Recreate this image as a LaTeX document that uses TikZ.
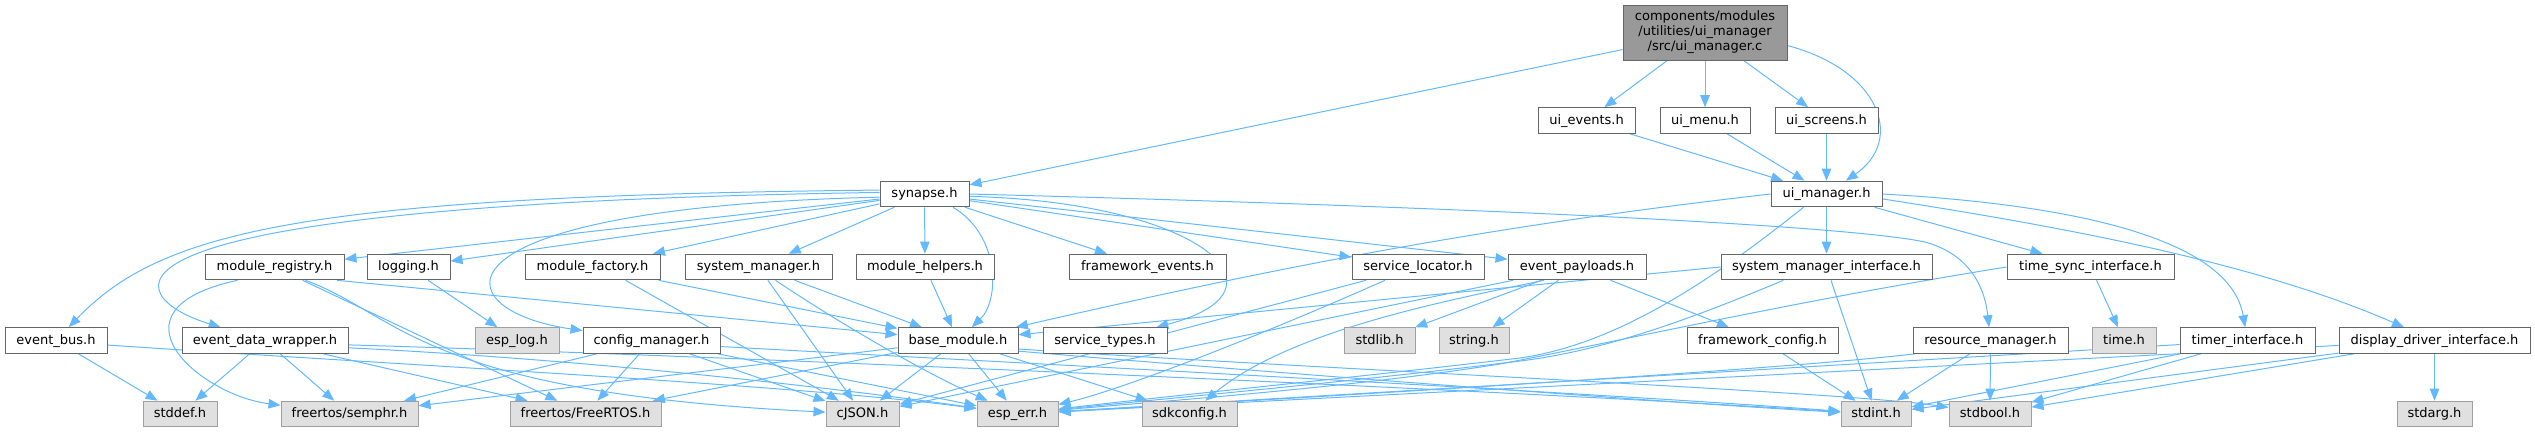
\documentclass[tikz,border=0pt]{standalone}
\usepackage{fontspec}
\setmainfont{DejaVu Sans}
\usetikzlibrary{arrows.meta}
\definecolor{edgec}{HTML}{63B8FF}
\definecolor{bordc}{HTML}{666666}
\definecolor{extb}{HTML}{A0A0A0}
\definecolor{extf}{HTML}{E0E0E0}
\definecolor{topf}{HTML}{999999}
\pgfdeclarelayer{edgelayer}
\pgfsetlayers{edgelayer,main}
\begin{document}
\begin{tikzpicture}[x=1pt,y=-1pt,
  box/.style={draw=bordc, fill=white, line width=1pt, inner sep=0pt, minimum height=25.6pt, text height=9.6pt, text depth=2.6pt, font=\fontsize{13}{15}\selectfont},
  ext/.style={box, draw=extb, fill=extf},
  topbox/.style={draw=bordc, fill=topf, line width=1pt, inner sep=0pt, minimum height=55pt, align=center, font=\fontsize{13}{15}\selectfont},
  dep/.style={draw=edgec, line width=1pt, -{Triangle[length=12pt,width=9.5pt]}}]
\useasboundingbox (0,0) rectangle (2535,432);
% row 0
\node[topbox, minimum width=164] (top) at (1705,32.5) {components/modules\\/utilities/ui\_manager\\/src/ui\_manager.c};
% row 1
\node[box, minimum width=97] (uievents) at (1586.5,120.5) {ui\_events.h};
\node[box, minimum width=90] (uimenu) at (1705,120.5) {ui\_menu.h};
\node[box, minimum width=103] (uiscreens) at (1826.5,120.5) {ui\_screens.h};
% row 2
\node[box, minimum width=89] (synapse) at (924.5,194) {synapse.h};
\node[box, minimum width=111] (uimanager) at (1826.5,194) {ui\_manager.h};
% row 3
\node[box, minimum width=139] (modreg) at (274.5,267) {module\_registry.h};
\node[box, minimum width=83] (logging) at (408.5,267) {logging.h};
\node[box, minimum width=135] (modfactory) at (592.5,267) {module\_factory.h};
\node[box, minimum width=147] (sysmgr) at (758.5,267) {system\_manager.h};
\node[box, minimum width=138] (modhelpers) at (925,267) {module\_helpers.h};
\node[box, minimum width=157] (fwevents) at (1147.5,267) {framework\_events.h};
\node[box, minimum width=132] (svcloc) at (1418,267) {service\_locator.h};
\node[box, minimum width=138] (evpay) at (1577,267) {event\_payloads.h};
\node[box, minimum width=211] (smiface) at (1826.5,267) {system\_manager\_interface.h};
\node[box, minimum width=167] (timesync) at (2090.5,267) {time\_sync\_interface.h};
% row 4
\node[box, minimum width=102] (eventbus) at (56,340.5) {event\_bus.h};
\node[box, minimum width=166] (evdw) at (265,340.5) {event\_data\_wrapper.h};
\node[ext, minimum width=84] (esplog) at (517,340.5) {esp\_log.h};
\node[box, minimum width=137] (cfgmgr) at (651.5,340.5) {config\_manager.h};
\node[box, minimum width=120] (basemod) at (958,340.5) {base\_module.h};
\node[box, minimum width=124] (svctypes) at (1105,340.5) {service\_types.h};
\node[ext, minimum width=71] (stdlib) at (1379.5,340.5) {stdlib.h};
\node[ext, minimum width=70] (stringh) at (1474,340.5) {string.h};
\node[box, minimum width=151] (fwconfig) at (1762.5,340.5) {framework\_config.h};
\node[box, minimum width=155] (resmgr) at (1990.5,340.5) {resource\_manager.h};
\node[ext, minimum width=64] (timeh) at (2124,340.5) {time.h};
\node[box, minimum width=135] (timer) at (2247.5,340.5) {timer\_interface.h};
\node[box, minimum width=191] (display) at (2434.5,340.5) {display\_driver\_interface.h};
% row 5
\node[ext, minimum width=74] (stddef) at (180,414) {stddef.h};
\node[ext, minimum width=137] (semphr) at (349.5,414) {freertos/semphr.h};
\node[ext, minimum width=151] (freertos) at (585.5,414) {freertos/FreeRTOS.h};
\node[ext, minimum width=73] (cjson) at (862.5,414) {cJSON.h};
\node[ext, minimum width=81] (esperr) at (1017.5,414) {esp\_err.h};
\node[ext, minimum width=95] (sdkconfig) at (1189.5,414) {sdkconfig.h};
\node[ext, minimum width=70] (stdint) at (1876,414) {stdint.h};
\node[ext, minimum width=82] (stdbool) at (1990,414) {stdbool.h};
\node[ext, minimum width=75] (stdarg) at (2434.5,414) {stdarg.h};

\begin{pgfonlayer}{edgelayer}
% ui_manager.c
\draw[dep] (top) -- (synapse);
\draw[dep] (top) -- (uievents);
\draw[dep] (top) -- (uimenu);
\draw[dep] (top) -- (uiscreens);
\draw[dep] (top.-9) .. controls (1880,70) and (1905,140) .. (uimanager);
\draw[dep] (uievents) -- (uimanager);
\draw[dep] (uimenu) -- (uimanager);
\draw[dep] (uiscreens) -- (uimanager);
% synapse.h
\draw[dep] (synapse) -- (modreg);
\draw[dep] (synapse) -- (logging);
\draw[dep] (synapse) -- (modfactory);
\draw[dep] (synapse) -- (sysmgr);
\draw[dep] (synapse) -- (modhelpers);
\draw[dep] (synapse) -- (fwevents);
\draw[dep] (synapse) -- (svcloc);
\draw[dep] (synapse) -- (evpay);
\draw[dep] (synapse.175) .. controls (300,196) and (160,232) .. (eventbus);
\draw[dep] (synapse.178) .. controls (30,205) and (130,300) .. (evdw);
\draw[dep] (synapse.184) .. controls (420,208) and (440,310) .. (cfgmgr);
\draw[dep] (synapse.-25) .. controls (1000,235) and (1000,300) .. (basemod);
\draw[dep] (synapse.-3) .. controls (1200,202) and (1300,290) .. (svctypes);
\draw[dep] (synapse.east) .. controls (1500,208) and (1850,226) .. (1925,242) .. controls (1972,255) and (1985,290) .. (resmgr);
% ui_manager.h
\draw[dep] (uimanager.west) .. controls (1500,225) and (1300,262) .. (basemod);
\draw[dep] ([xshift=-23pt]uimanager.south) .. controls (1700,290) and (1610,345) .. (1520,358) .. controls (1350,378) and (1150,398) .. (esperr);
\draw[dep] (uimanager) -- (smiface);
\draw[dep] (uimanager) -- (timesync);
\draw[dep] (uimanager.east) .. controls (2080,205) and (2230,240) .. (timer);
\draw[dep] (uimanager.-5) .. controls (2050,225) and (2250,260) .. (display);
% module_registry.h
\draw[dep] (modreg.-12) -- (basemod);
\draw[dep] ([xshift=-37pt]modreg.south) .. controls (100,310) and (200,395) .. (semphr);
\draw[dep] (modreg) -- (freertos);
\draw[dep] ([xshift=31pt]modreg.south) .. controls (400,315) and (420,392) .. (cjson);
% logging.h
\draw[dep] (logging) -- (esplog);
% module_factory.h
\draw[dep] (modfactory) -- (basemod);
\draw[dep] ([xshift=33pt]modfactory.south) -- (cjson);
% system_manager.h
\draw[dep] (sysmgr) -- (basemod);
\draw[dep] (sysmgr) -- (cjson);
\draw[dep] ([xshift=17pt]sysmgr.south) .. controls (850,330) and (930,375) .. (esperr);
% module_helpers.h
\draw[dep] (modhelpers) -- (basemod);
% service_locator.h
\draw[dep] ([xshift=-52pt]svcloc.south) -- (cjson);
\draw[dep] ([xshift=-33pt]svcloc.south) .. controls (1250,340) and (1120,390) .. (esperr);
% event_payloads.h
\draw[dep] (evpay) -- (stdlib);
\draw[dep] (evpay) -- (stringh);
\draw[dep] (evpay) -- (fwconfig);
\draw[dep] ([xshift=-64pt]evpay.south) -- (cjson);
\draw[dep] ([xshift=-33pt]evpay.south) .. controls (1450,300) and (1290,330) .. (sdkconfig);
% system_manager_interface.h
\draw[dep] (smiface) -- (stdint);
\draw[dep] (smiface.west) -- (basemod);
\draw[dep] ([xshift=-43pt]smiface.south) .. controls (1700,315) and (1610,350) .. (1520,361) .. controls (1350,382) and (1150,400) .. (esperr);
% time_sync_interface.h
\draw[dep] (timesync) -- (timeh);
\draw[dep] (timesync.west) .. controls (1800,300) and (1600,345) .. (1500,364) .. controls (1350,388) and (1150,402) .. (esperr);
% framework_config.h
\draw[dep] (fwconfig) -- (stdint);
% event_bus.h
\draw[dep] (eventbus) -- (stddef);
\draw[dep] (eventbus.-5) .. controls (400,365) and (800,385) .. (esperr);
% event_data_wrapper.h
\draw[dep] (evdw) -- (stddef);
\draw[dep] (evdw) -- (semphr);
\draw[dep] (evdw) -- (freertos);
\draw[dep] (evdw.-5) .. controls (600,360) and (850,390) .. (esperr);
\draw[dep] (evdw.-3) .. controls (700,355) and (1500,390) .. (stdint);
% config_manager.h
\draw[dep] (cfgmgr) -- (semphr);
\draw[dep] (cfgmgr) -- (freertos);
\draw[dep] (cfgmgr) -- (cjson);
\draw[dep] (cfgmgr) -- (esperr);
\draw[dep] (cfgmgr.-5) .. controls (1000,362) and (1600,393) .. (stdint);
% base_module.h
\draw[dep] (basemod) -- (cjson);
\draw[dep] (basemod) -- (esperr);
\draw[dep] (basemod) -- (sdkconfig);
\draw[dep] (basemod) -- (freertos);
\draw[dep] (basemod) -- (semphr);
\draw[dep] (basemod.-10) .. controls (1300,375) and (1700,405) .. (stdint);
\draw[dep] (basemod.-8) .. controls (1300,368) and (1850,392) .. (stdbool);
% resource_manager.h
\draw[dep] (resmgr) -- (stdint);
\draw[dep] (resmgr) -- (stdbool);
\draw[dep] (resmgr.-170) .. controls (1780,370) and (1300,398) .. (esperr);
% timer_interface.h
\draw[dep] (timer) -- (stdint);
\draw[dep] (timer) -- (stdbool);
\draw[dep] (timer) -- (esperr);
% display_driver_interface.h
\draw[dep] (display) -- (stdarg);
\draw[dep] (display) -- (stdint);
\draw[dep] (display) -- (stdbool);
\draw[dep] (display) -- (esperr);
\end{pgfonlayer}
\end{tikzpicture}
\end{document}
